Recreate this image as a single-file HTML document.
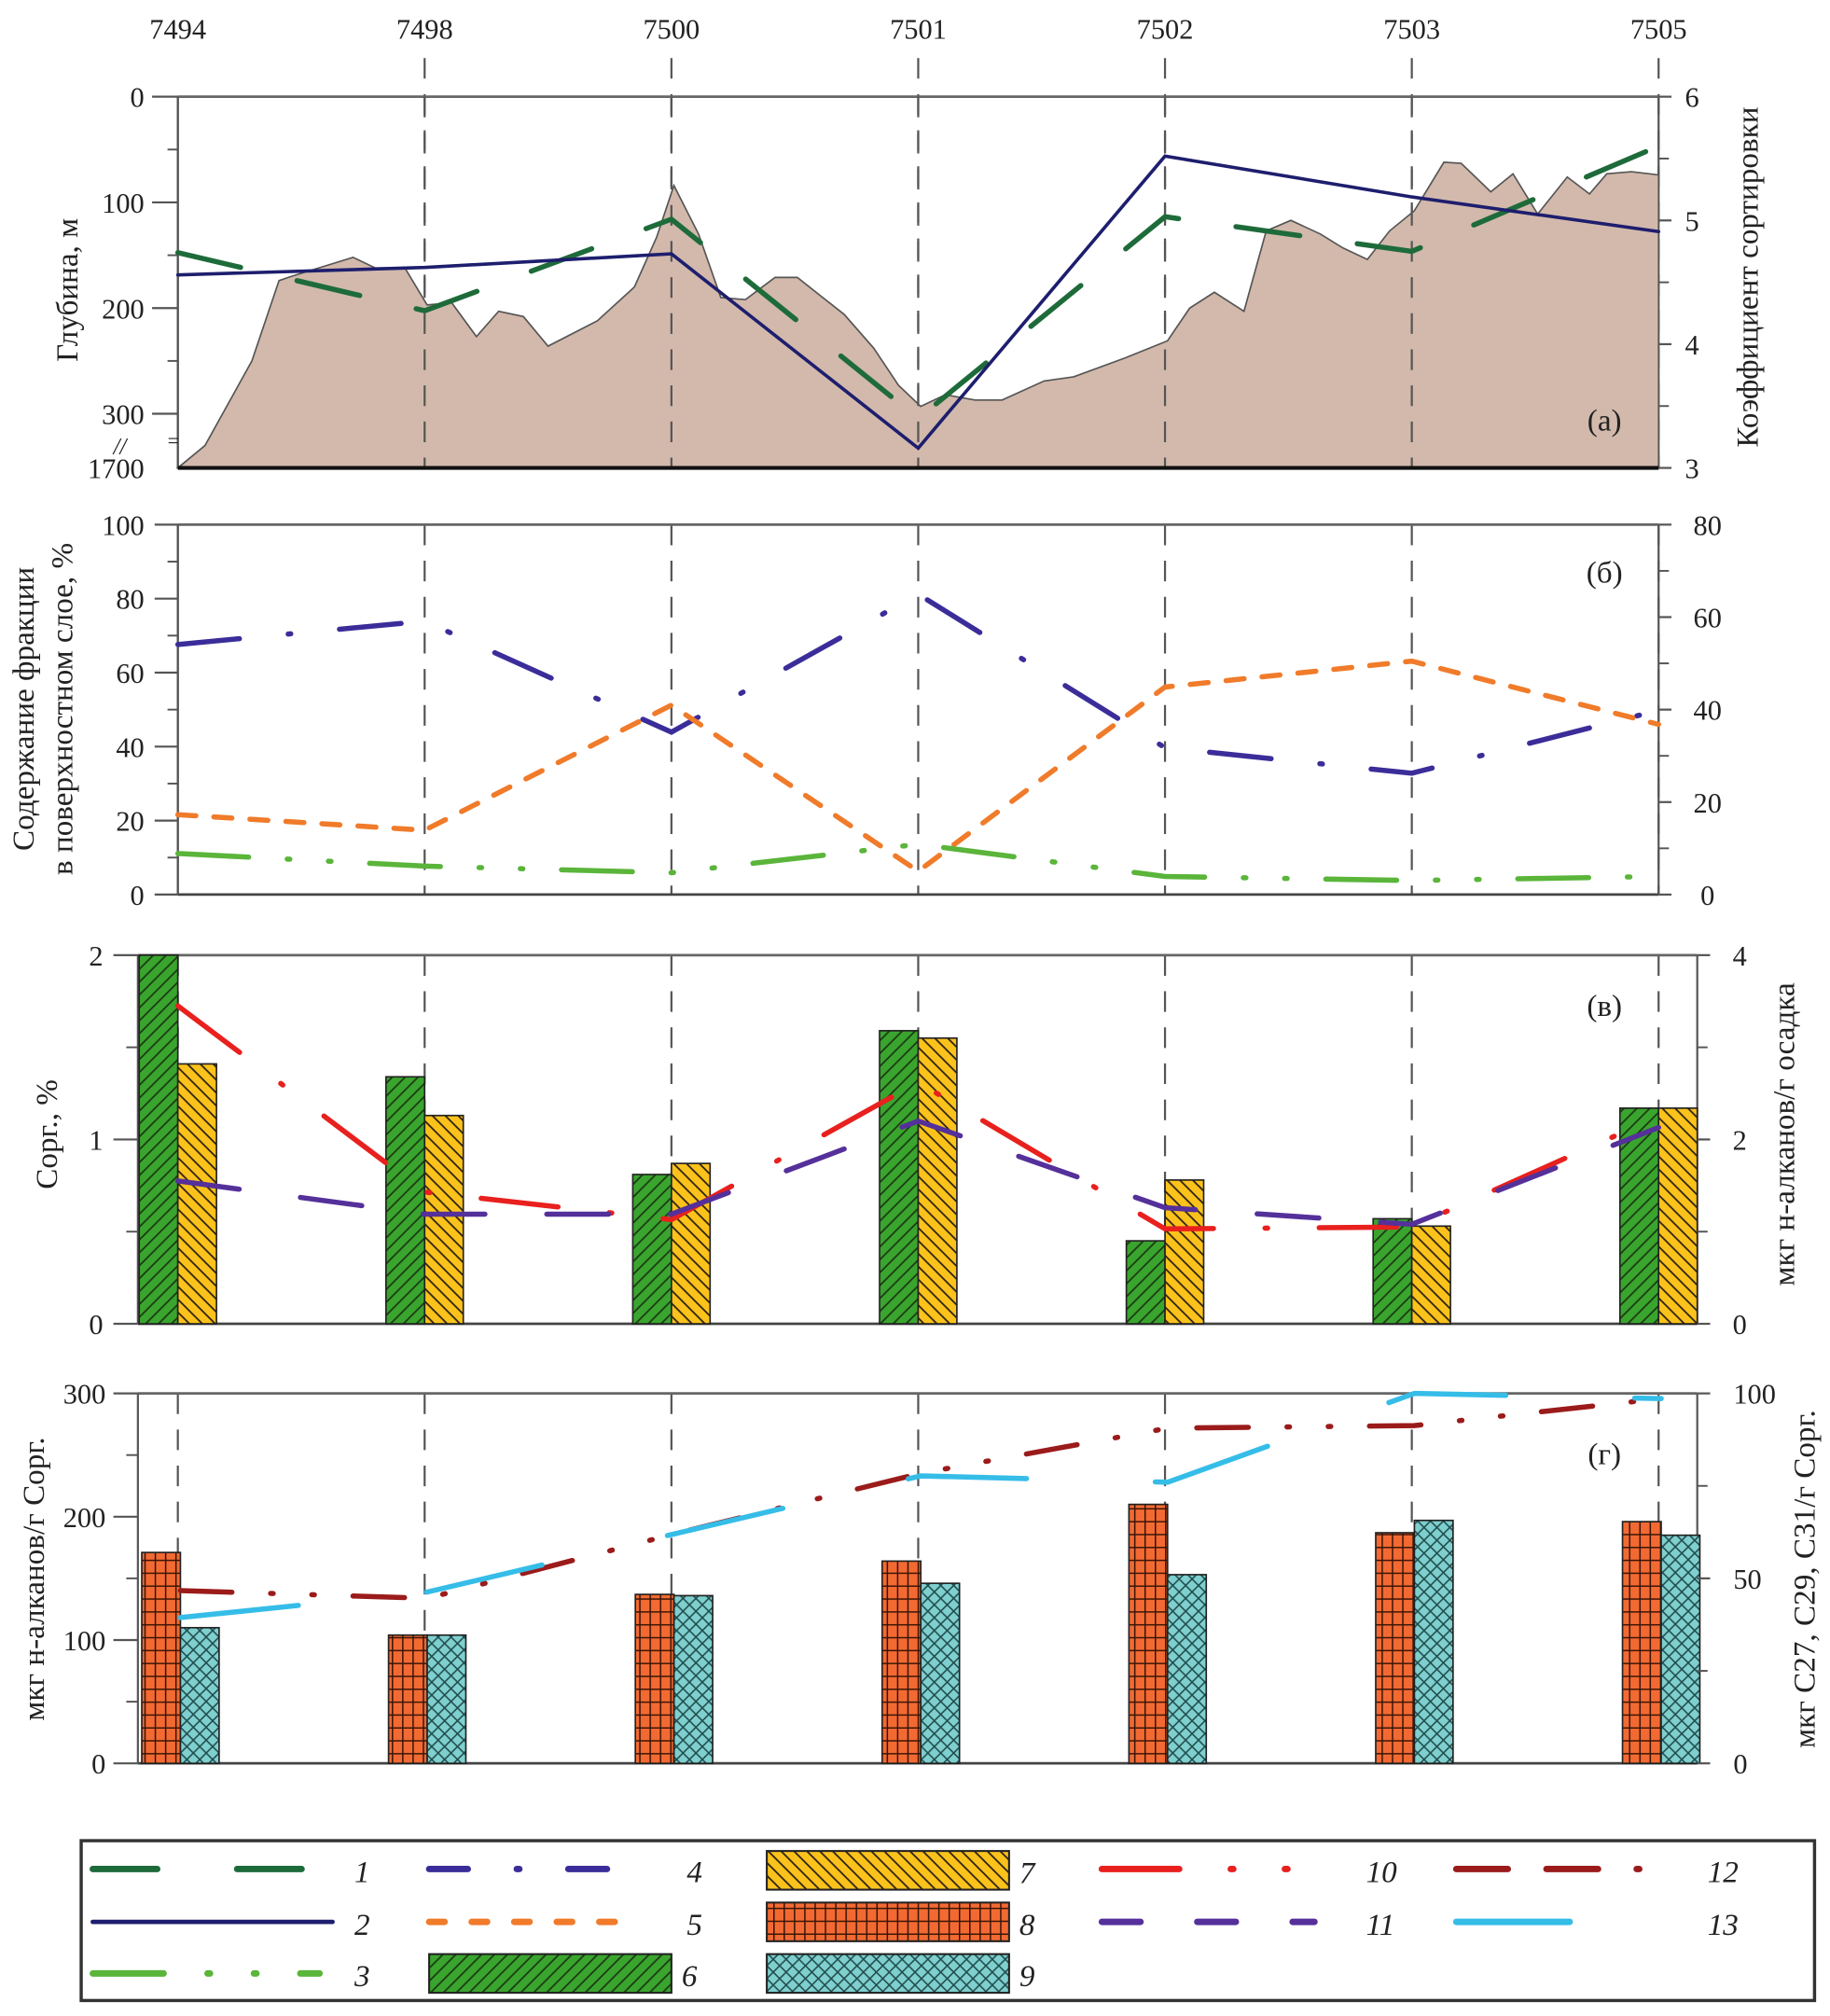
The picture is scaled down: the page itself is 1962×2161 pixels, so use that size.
<!DOCTYPE html>
<html><head><meta charset="utf-8"><style>
html,body{margin:0;padding:0;background:#fff}
svg{display:block}
text{font-family:"Liberation Serif","DejaVu Serif",serif;fill:#222}
</style></head><body>
<svg id="chart" xmlns="http://www.w3.org/2000/svg" width="1962" height="2161" viewBox="0 0 1420 1564">
<defs>
<pattern id="p6" width="10" height="10" patternUnits="userSpaceOnUse"><rect width="10" height="10" fill="#3aa52e"/><path d="M-2,12 L12,-2 M-7,7 L7,-7 M3,17 L17,3" stroke="#1b3a12" stroke-width="1.3"/></pattern>
<pattern id="p7" width="10" height="10" patternUnits="userSpaceOnUse"><rect width="10" height="10" fill="#fcc21c"/><path d="M-2,-2 L12,12 M-7,3 L7,17 M3,-7 L17,7" stroke="#2a2210" stroke-width="1.3"/></pattern>
<pattern id="p8" width="8" height="10" patternUnits="userSpaceOnUse"><rect width="8" height="10" fill="#f26a32"/><path d="M0.5,0 V10 M0,0.5 H8" stroke="#3a1508" stroke-width="1.2"/></pattern>
<pattern id="p9" width="10" height="10" patternUnits="userSpaceOnUse"><rect width="10" height="10" fill="#7fcfcf"/><path d="M0,0 L10,10 M10,0 L0,10" stroke="#1f4b4b" stroke-width="1.1"/></pattern>
</defs>
<g id="root"></g>
</svg>
<script>
const stations=['7494','7498','7500','7501','7502','7503','7505'];
// panel a: profile (station-fraction, depth m)
const profS=[0,0.11,0.30,0.41,0.46,0.71,0.80,0.92,1.01,1.11,1.21,1.30,1.40,1.50,1.70,1.85,1.94,2.01,2.11,2.20,2.30,2.42,2.51,2.70,2.82,2.92,3.01,3.11,3.23,3.34,3.51,3.63,3.84,4.01,4.10,4.20,4.32,4.41,4.51,4.63,4.72,4.82,4.91,5.01,5.13,5.20,5.32,5.41,5.51,5.63,5.72,5.79,5.89,6.0];
const profD=[351,330,250,174,170,152,162,162,197,195,227,203,208,236,212,180,133,84,130,190,192,171,171,206,238,273,293,282,287,287,269,265,247,231,200,185,203,127,117,130,143,154,127,108,62,63,90,73,111,76,92,73,71,74];
const sort1=[4.74,4.27,5.01,3.40,5.03,4.75,5.60];
const sort2=[4.56,4.62,4.73,3.16,5.52,5.19,4.91];
// panel b
const frac4=[67.6,73.9,43.9,81.2,39.7,32.8,49.8];
const frac5=[21.6,17.4,51.2,6.3,56.1,63.1,46.0];
const frac3=[11.1,7.7,5.9,13.6,4.9,3.8,4.9];
// panel c
const corg6=[2.0,1.34,0.81,1.59,0.45,0.57,1.17];
const corg7=[1.41,1.13,0.87,1.55,0.78,0.53,1.17];
const alk10=[3.45,1.43,1.13,2.62,1.03,1.05,2.25];
const alk11=[1.55,1.19,1.19,2.2,1.26,1.08,2.13];
// panel d
const nalk8=[171,104,137,164,210,187,196];
const nalk9=[110,104,136,146,153,197,185];
const c12=[46.7,44.6,62,78.4,90.6,91.3,98.6];
const c13=[39.4,46.3,62,77.7,76,100,98.6];
const tickA=['0','100','200','300'];const tickAR=['3','4','5','6'];
const tickB=['0','20','40','60','80','100'];const tickBR=['0','20','40','60','80'];

const NS='http://www.w3.org/2000/svg';
const root=document.getElementById('root');
function el(t,a,p){const e=document.createElementNS(NS,t);for(const k in a)e.setAttribute(k,a[k]);(p||root).appendChild(e);return e;}
const X0=138,X1=1287;
const sx=i=>X0+(X1-X0)*i/6;
function txt(x,y,s,opt){const e=el('text',Object.assign({x:x,y:y,'font-size':22},opt||{}));e.textContent=s;return e;}

stations.forEach((s,i)=>{const t=txt(sx(i),30,s,{'text-anchor':'middle'});

});

function frame(top,bot,left,right,name){
 const g=el('g',{});
 
 
 const solidFirst=(left===X0);
 for(let i=0;i<7;i++){const solid=(i==0&&solidFirst);el('line',{x1:sx(i),x2:sx(i),y1:(solid?top:top-(name=='panel-a'?30:0)),y2:bot,stroke:'#555','stroke-width':1.6,'stroke-dasharray':solid?'':'16,12'},g);}
 el('line',{x1:left,x2:right,y1:top,y2:top,stroke:'#666','stroke-width':2},g);
 el('line',{x1:left,x2:right,y1:bot,y2:bot,stroke:'#444','stroke-width':2},g);
 el('line',{x1:left,x2:left,y1:top,y2:bot,stroke:'#555','stroke-width':1.6},g);
 el('line',{x1:right,x2:right,y1:top,y2:bot,stroke:'#555','stroke-width':1.6},g);
 return g;
}
function poly(pts,attrs,name){const p=el('polyline',Object.assign({points:pts.map(q=>q.join(',')).join(' '),fill:'none','stroke-linecap':'round'},attrs));

return p;}

// ===== Panel a =====
const aT=75,aB=363;
const ay=d=>d>=340?aB:aT+d*0.82;
const ayR=v=>aB-(v-3)/3*(aB-aT);
const gA=frame(aT,aB,X0,X1,'panel-a');
const pp=[[sx(0),aB]].concat(profS.map((s,i)=>[sx(s),ay(profD[i])])).concat([[sx(6),aB]]);
const prof=el('polygon',{points:pp.map(q=>q.join(',')).join(' '),fill:'#d2b9ab',stroke:'#555','stroke-width':1.2});


for(let i=1;i<6;i++)el('line',{x1:sx(i),x2:sx(i),y1:aT,y2:aB,stroke:'#555','stroke-width':1.6,'stroke-dasharray':'16,12'});
el('line',{x1:X0,x2:X1,y1:aB,y2:aB,stroke:'#111','stroke-width':3});
poly(sort1.map((v,i)=>[sx(i),ayR(v)]),{stroke:'#1e6b3a','stroke-width':4,'stroke-dasharray':'50,45'},'sorting-line-1');
poly(sort2.map((v,i)=>[sx(i),ayR(v)]),{stroke:'#1e1e6e','stroke-width':2.6},'sorting-line-2');
tickA.forEach((t,i)=>{const y=ay(+t);el('line',{x1:118,x2:X0,y1:y,y2:y,stroke:'#555','stroke-width':1.6});txt(112,y+8,t,{'text-anchor':'end'});});
[50,150,250].forEach(d=>el('line',{x1:130,x2:X0,y1:ay(d),y2:ay(d),stroke:'#555','stroke-width':1.4}));
txt(112,371,'1700',{'text-anchor':'end'});txt(88,352,'//',{'font-size':18,'font-style':'italic'});txt(130,347,'=',{'font-size':16});
tickAR.forEach(t=>{const y=ayR(+t);el('line',{x1:X1,x2:X1+10,y1:y,y2:y,stroke:'#555','stroke-width':1.6});txt(X1+26,y+8,t,{'text-anchor':'middle'});});
[3.5,4.5,5.5].forEach(v=>el('line',{x1:X1,x2:X1+8,y1:ayR(v),y2:ayR(v),stroke:'#555','stroke-width':1.4}));
txt(1245,334,'(а)',{'text-anchor':'middle','font-size':24});
txt(0,0,'Глубина, м',{'transform':'translate(60,225) rotate(-90)','text-anchor':'middle','font-size':24});
txt(0,0,'Коэффициент сортировки',{'transform':'translate(1364,215) rotate(-90)','text-anchor':'middle','font-size':24});

// ===== Panel b =====
const bT=407,bB=694;
const by=v=>bB-v/100*(bB-bT);const byR=v=>bB-v/80*(bB-bT);
frame(bT,bB,X0,X1,'panel-b');
poly(frac4.map((v,i)=>[sx(i),by(v)]),{stroke:'#3b2d99','stroke-width':4,'stroke-dasharray':'48,38,2,38'},'fraction-line-4');
poly(frac5.map((v,i)=>[sx(i),by(v)]),{stroke:'#f07b2a','stroke-width':4,'stroke-dasharray':'14,14'},'fraction-line-5');
poly(frac3.map((v,i)=>[sx(i),by(v)]),{stroke:'#5ab53a','stroke-width':4,'stroke-dasharray':'55,30,2,30,2,30'},'fraction-line-3');
tickB.forEach(t=>{const y=by(+t);el('line',{x1:120,x2:X0,y1:y,y2:y,stroke:'#555','stroke-width':1.6});txt(112,y+8,t,{'text-anchor':'end'});});
[10,30,50,70,90].forEach(v=>el('line',{x1:130,x2:X0,y1:by(v),y2:by(v),stroke:'#555','stroke-width':1.4}));
tickBR.forEach(t=>{const y=byR(+t);el('line',{x1:X1,x2:X1+10,y1:y,y2:y,stroke:'#555','stroke-width':1.6});txt(1325,y+8,t,{'text-anchor':'middle'});});
[10,30,50,70].forEach(v=>el('line',{x1:X1,x2:X1+8,y1:byR(v),y2:byR(v),stroke:'#555','stroke-width':1.4}));
txt(1245,452,'(б)',{'text-anchor':'middle','font-size':24});
txt(0,0,'Содержание фракции',{'transform':'translate(26,550) rotate(-90)','text-anchor':'middle','font-size':24});
txt(0,0,'в поверхностном слое, %',{'transform':'translate(56,550) rotate(-90)','text-anchor':'middle','font-size':24});

// ===== Panel c =====
const cT=741,cB=1027,cL=107,cR=1317;
const cy=v=>cB-v/2*(cB-cT);const cyR=v=>cB-v/4*(cB-cT);
frame(cT,cB,cL,cR,'panel-c');
corg6.forEach((v,i)=>{const r=el('rect',{x:sx(i)-30,y:cy(v),width:30,height:cB-cy(v),fill:'url(#p6)',stroke:'#222','stroke-width':1.2});

});
corg7.forEach((v,i)=>{const r=el('rect',{x:sx(i),y:cy(v),width:30,height:cB-cy(v),fill:'url(#p7)',stroke:'#222','stroke-width':1.2});

});
poly(alk10.map((v,i)=>[sx(i),cyR(v)]),{stroke:'#e8201e','stroke-width':4,'stroke-dasharray':'60,40,2,40'},'alkane-line-10');
poly(alk11.map((v,i)=>[sx(i),cyR(v)]),{stroke:'#55309a','stroke-width':4,'stroke-dasharray':'48,48'},'alkane-line-11');
['0','1','2'].forEach(t=>{const y=cy(+t);el('line',{x1:88,x2:cL,y1:y,y2:y,stroke:'#555','stroke-width':1.6});txt(80,y+8,t,{'text-anchor':'end'});});
[0.5,1.5].forEach(v=>el('line',{x1:98,x2:cL,y1:cy(v),y2:cy(v),stroke:'#555','stroke-width':1.4}));
['0','2','4'].forEach(t=>{const y=cyR(+t);el('line',{x1:cR,x2:cR+10,y1:y,y2:y,stroke:'#555','stroke-width':1.6});txt(1350,y+8,t,{'text-anchor':'middle'});});
[1,3].forEach(v=>el('line',{x1:cR,x2:cR+8,y1:cyR(v),y2:cyR(v),stroke:'#555','stroke-width':1.4}));
txt(1245,788,'(в)',{'text-anchor':'middle','font-size':24});
txt(0,0,'Сорг., %',{'transform':'translate(44,880) rotate(-90)','text-anchor':'middle','font-size':24});
txt(0,0,'мкг н-алканов/г осадка',{'transform':'translate(1392,880) rotate(-90)','text-anchor':'middle','font-size':24});

// ===== Panel d =====
const dT=1081,dB=1368;
const dy=v=>dB-v/300*(dB-dT);const dyR=v=>dB-v/100*(dB-dT);
frame(dT,dB,cL,cR,'panel-d');
nalk8.forEach((v,i)=>{const r=el('rect',{x:sx(i)-28,y:dy(v),width:30,height:dB-dy(v),fill:'url(#p8)',stroke:'#222','stroke-width':1.2});

});
nalk9.forEach((v,i)=>{const r=el('rect',{x:sx(i)+2,y:dy(v),width:30,height:dB-dy(v),fill:'url(#p9)',stroke:'#222','stroke-width':1.2});

});
poly(c12.map((v,i)=>[sx(i)+2,dyR(v)]),{stroke:'#9b1b1b','stroke-width':4,'stroke-dasharray':'40,30,2,30,2,30'},'c-ratio-line-12');
poly(c13.map((v,i)=>[sx(i)+2,dyR(v)]),{stroke:'#35bde8','stroke-width':4,'stroke-dasharray':'92,100'},'c-ratio-line-13');
['0','100','200','300'].forEach(t=>{const y=dy(+t);el('line',{x1:88,x2:cL,y1:y,y2:y,stroke:'#555','stroke-width':1.6});txt(82,y+8,t,{'text-anchor':'end'});});
[50,150,250].forEach(v=>el('line',{x1:98,x2:cL,y1:dy(v),y2:dy(v),stroke:'#555','stroke-width':1.4}));
['0','50','100'].forEach(t=>{const y=dyR(+t);el('line',{x1:cR,x2:cR+10,y1:y,y2:y,stroke:'#555','stroke-width':1.6});txt(1345,y+8,t,{'text-anchor':'start'});});
[25,75].forEach(v=>el('line',{x1:cR,x2:cR+8,y1:dyR(v),y2:dyR(v),stroke:'#555','stroke-width':1.4}));
txt(1245,1136,'(г)',{'text-anchor':'middle','font-size':24});
txt(0,0,'мкг н-алканов/г Сорг.',{'transform':'translate(34,1225) rotate(-90)','text-anchor':'middle','font-size':24});
txt(0,0,'мкг С27, С29, С31/г Сорг.',{'transform':'translate(1408,1225) rotate(-90)','text-anchor':'middle','font-size':24});

// ===== Legend =====
const lg=el('g',{});


el('rect',{x:63,y:1428,width:1345,height:124,fill:'#fff',stroke:'#333','stroke-width':2.5},lg);
function lline(x1,x2,y,attrs,num,nx){const g=el('g',{},lg);


el('line',Object.assign({x1:x1,x2:x2,y1:y,y2:y,'stroke-width':5,'stroke-linecap':'round'},attrs),g);
const t=el('text',{x:nx,y:y+10,'font-size':24,'font-style':'italic'},g);t.textContent=num;}
function lbox(x,y,fill,num){const g=el('g',{},lg);


el('rect',{x:x,y:y,width:188,height:30,fill:fill,stroke:'#222','stroke-width':1.5},g);
const t=el('text',{x:x+196,y:y+25,'font-size':24,'font-style':'italic'},g);t.textContent=num;}
lline(72,238,1450,{stroke:'#1e6b3a','stroke-dasharray':'50,62'},'1',275);
lline(72,258,1491,{stroke:'#1e1e6e','stroke-width':3.5},'2',275);
lline(72,248,1531,{stroke:'#5ab53a','stroke-dasharray':'55,34,2,34,2,34'},'3',275);
lline(333,478,1450,{stroke:'#3b2d99','stroke-dasharray':'30,38,2,38'},'4',533);
lline(333,498,1491,{stroke:'#f07b2a','stroke-dasharray':'12,21'},'5',533);
lbox(333,1516,'url(#p6)','6');
lbox(595,1436,'url(#p7)','7');
lbox(595,1476,'url(#p8)','8');
lbox(595,1516,'url(#p9)','9');
lline(855,1010,1450,{stroke:'#e8201e','stroke-dasharray':'60,40,2,40,2,60'},'10',1060);
lline(855,1020,1491,{stroke:'#55309a','stroke-dasharray':'30,44'},'11',1060);
lline(1130,1280,1450,{stroke:'#9b1b1b','stroke-dasharray':'40,30,40,30,2,30,2,30'},'12',1325);
lline(1130,1218,1491,{stroke:'#35bde8'},'13',1325);
</script>
</body></html>
